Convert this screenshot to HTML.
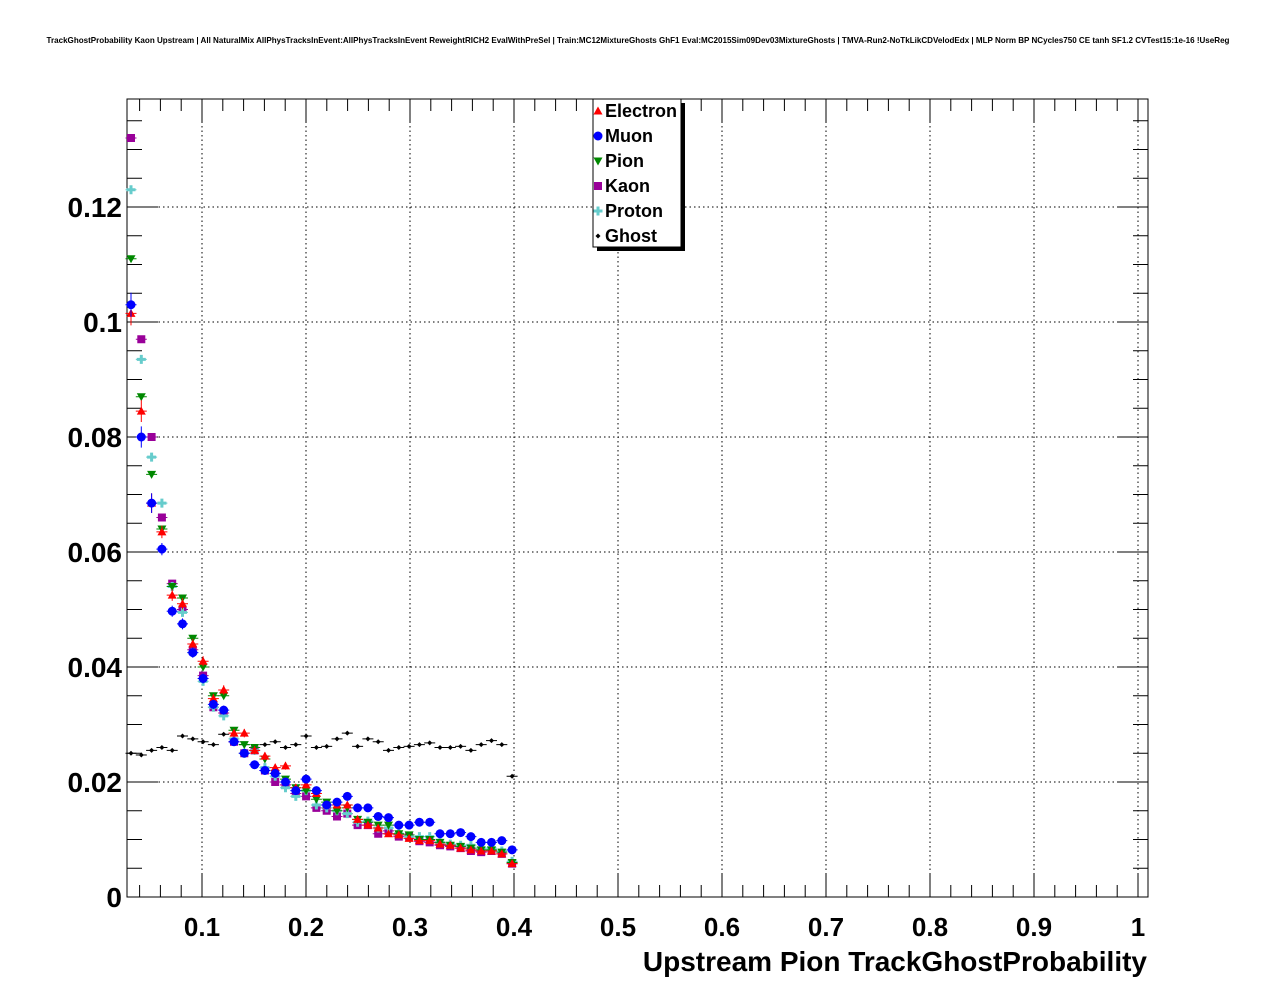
<!DOCTYPE html>
<html><head><meta charset="utf-8"><style>
body{margin:0;background:#fff;}
svg{display:block;font-family:"Liberation Sans",sans-serif;}
</style></head><body>
<svg id="s" width="1276" height="996" xmlns="http://www.w3.org/2000/svg">
<rect width="1276" height="996" fill="#fff"/>
<text x="638" y="43" font-size="8.05" font-weight="bold" text-anchor="middle">TrackGhostProbability Kaon Upstream | All NaturalMix AllPhysTracksInEvent:AllPhysTracksInEvent ReweightRICH2 EvalWithPreSel | Train:MC12MixtureGhosts GhF1 Eval:MC2015Sim09Dev03MixtureGhosts | TMVA-Run2-NoTkLikCDVelodEdx | MLP Norm BP NCycles750 CE tanh SF1.2 CVTest15:1e-16 !UseReg</text>
<g id="grid"></g>
<rect x="127" y="99" width="1021" height="798" fill="none" stroke="#000" stroke-width="1"/>
<g id="ticks" stroke="#000" stroke-width="1"></g>
<g id="labels" font-size="26" font-weight="bold"></g>
<text x="1147" y="971" font-size="28" font-weight="bold" text-anchor="end">Upstream Pion TrackGhostProbability</text>
<g id="data"></g>
<rect x="597" y="103" width="88" height="148" fill="#000"/>
<rect x="593" y="99" width="88" height="148" fill="#fff" stroke="#000"/>
<g id="leg" font-size="18" font-weight="bold"></g>
</svg>
<script>
var NS="http://www.w3.org/2000/svg";
function el(p,t,a,txt){var e=document.createElementNS(NS,t);for(var k in a)e.setAttribute(k,a[k]);if(txt!==undefined)e.textContent=txt;document.getElementById(p).appendChild(e);return e;}
function X(v){return 98+1040*v;}
function Y(v){return 897-5750*v;}
for(var k=1;k<=10;k++){var x=X(k/10);if(x<1147)el('grid','line',{x1:x,y1:99,x2:x,y2:897,stroke:'#000','stroke-dasharray':'1.5,3','stroke-width':1});}
for(var k=1;k<=6;k++){var y=Y(k*0.02);el('grid','line',{x1:127,y1:y,x2:1148,y2:y,stroke:'#000','stroke-dasharray':'1.5,3','stroke-width':1});}
for(var v=0.04;v<=1.0001;v+=0.02){var x=X(v);var maj=Math.abs(v*10-Math.round(v*10))<1e-6;var L=maj?24:12;
el('ticks','line',{x1:x,y1:897,x2:x,y2:897-L});el('ticks','line',{x1:x,y1:99,x2:x,y2:99+L});}
for(var v=0;v<=0.1351;v+=0.005){var y=Y(v);var maj=Math.abs(v/0.02-Math.round(v/0.02))<1e-6;var L=maj?31:15;
el('ticks','line',{x1:127,y1:y,x2:127+L,y2:y});el('ticks','line',{x1:1148,y1:y,x2:1148-L,y2:y});}
var yl=["0","0.02","0.04","0.06","0.08","0.1","0.12"];
for(var k=0;k<7;k++)el('labels','text',{x:122,y:Y(k*0.02)+10,'text-anchor':'end','font-size':28},yl[k]);
var xl=["0.1","0.2","0.3","0.4","0.5","0.6","0.7","0.8","0.9","1"];
for(var k=0;k<10;k++)el('labels','text',{x:X((k+1)/10),y:936,'text-anchor':'middle'},xl[k]);
var S={
kaon:[0.132,0.097,0.080,0.066,0.0545,0.050,0.043,0.0385,0.033,0.032,0.027,0.025,0.0255,0.022,0.020,0.0195,0.018,0.0175,0.0155,0.015,0.014,0.0145,0.0125,0.0125,0.011,0.0115,0.0105,0.0105,0.0097,0.0095,0.009,0.0088,0.0085,0.008,0.0078,0.008,0.0075,0.0058],
proton:[0.123,0.0935,0.0765,0.0685,0.054,0.0495,0.0425,0.0375,0.033,0.0315,0.0275,0.025,0.0255,0.0225,0.021,0.019,0.0175,0.0185,0.016,0.0155,0.015,0.0145,0.013,0.0132,0.012,0.012,0.011,0.0105,0.0105,0.0105,0.0095,0.0092,0.009,0.009,0.0085,0.0085,0.008,0.0062],
pion:[0.111,0.087,0.0735,0.064,0.054,0.052,0.045,0.040,0.035,0.035,0.029,0.0265,0.026,0.024,0.0215,0.0205,0.019,0.0185,0.017,0.0165,0.015,0.0155,0.0135,0.013,0.0125,0.0125,0.011,0.0108,0.010,0.010,0.0095,0.009,0.0088,0.0085,0.0082,0.0082,0.0078,0.006],
electron:[0.1015,0.0845,0.0685,0.0635,0.0525,0.051,0.044,0.041,0.0345,0.036,0.0285,0.0285,0.0255,0.0245,0.0225,0.0228,0.019,0.0195,0.018,0.016,0.016,0.016,0.0135,0.0125,0.012,0.011,0.0108,0.0102,0.0098,0.0098,0.0092,0.009,0.0085,0.0082,0.008,0.008,0.0075,0.0058],
muon:[0.103,0.080,0.0685,0.0605,0.0497,0.0475,0.0425,0.038,0.0335,0.0325,0.027,0.025,0.023,0.022,0.0215,0.020,0.0185,0.0205,0.0185,0.016,0.0165,0.0175,0.0155,0.0155,0.014,0.0138,0.0125,0.0125,0.013,0.013,0.011,0.011,0.0112,0.0105,0.0095,0.0095,0.0098,0.0082],
ghost:[0.025,0.0247,0.0255,0.026,0.0255,0.028,0.0275,0.027,0.0265,0.0283,0.027,0.0265,0.026,0.0265,0.027,0.026,0.0265,0.028,0.026,0.0262,0.0275,0.0285,0.0262,0.0275,0.027,0.0255,0.026,0.0262,0.0265,0.0268,0.026,0.026,0.0262,0.0255,0.0265,0.0272,0.0265,0.021]};
var C={electron:'#ff0000',muon:'#0000ff',pion:'#008800',kaon:'#990099',proton:'#66cccc',ghost:'#000000'};
function marker(g,t,x,y,c){
 if(t=='electron')el(g,'polygon',{points:(x-4.5)+','+(y+3.5)+' '+(x+4.5)+','+(y+3.5)+' '+x+','+(y-4.5),fill:c});
 else if(t=='muon')el(g,'circle',{cx:x,cy:y,r:4.5,fill:c});
 else if(t=='pion')el(g,'polygon',{points:(x-4.5)+','+(y-3.5)+' '+(x+4.5)+','+(y-3.5)+' '+x+','+(y+4.5),fill:c});
 else if(t=='kaon')el(g,'rect',{x:x-4,y:y-4,width:8,height:8,fill:c});
 else if(t=='proton'){el(g,'rect',{x:x-4.5,y:y-1.5,width:9,height:3,fill:c});el(g,'rect',{x:x-1.5,y:y-4.5,width:3,height:9,fill:c});}
 else el(g,'polygon',{points:(x-2.5)+','+y+' '+x+','+(y-2.5)+' '+(x+2.5)+','+y+' '+x+','+(y+2.5),fill:c});
}
['ghost','kaon','proton','pion','electron','muon'].forEach(function(t){
 var c=C[t];S[t].forEach(function(v,i){var x=131+10.3*i,y=Y(v);
  var e=Math.max(2,Math.sqrt(v)*25*(i<3?1.5:1));
  el('data','line',{x1:x-5.5,y1:y,x2:x+5.5,y2:y,stroke:c,'stroke-width':1});
  if(t=='electron'||t=='muon')el('data','line',{x1:x,y1:y-e,x2:x,y2:y+e,stroke:c,'stroke-width':1});
  marker('data',t,x,y,c);});
});
var names=[['electron','Electron'],['muon','Muon'],['pion','Pion'],['kaon','Kaon'],['proton','Proton'],['ghost','Ghost']];
names.forEach(function(n,k){var y=111+25*k;marker('leg',n[0],598,y,C[n[0]]);el('leg','text',{x:605,y:y+6},n[1]);});
</script>
</body></html>
